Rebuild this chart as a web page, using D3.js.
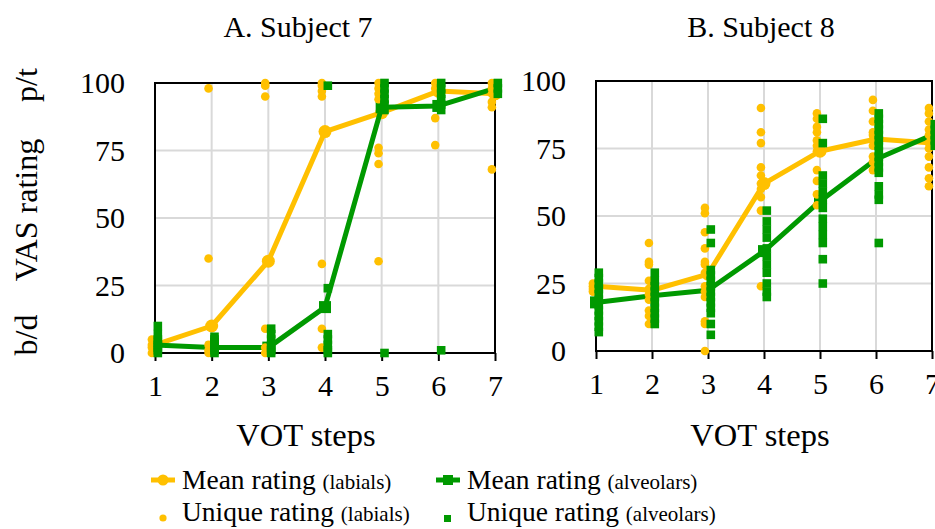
<!DOCTYPE html>
<html>
<head>
<meta charset="utf-8">
<script src="https://cdn.jsdelivr.net/npm/d3@7/dist/d3.min.js"></script>
<style>
  html, body { margin: 0; padding: 0; background: #fff; }
  svg { display: block; }
  text { font-family: "Liberation Serif", "Times New Roman", serif; fill: #000; }
</style>
</head>
<body>
<svg id="chart" width="935" height="529"></svg>
<script>
// VOT continuum steps and rating ticks
const steps = [1, 2, 3, 4, 5, 6, 7];
const yTicks = [0, 25, 50, 75, 100];

// Subject 7: mean ratings per step
const meanLabialA   = [3, 10, 34, 82, 89, 97, 96];
const meanAlveolarA = [3, 2, 2, 17, 91, 91.5, 98];
// Subject 7: individual ratings per step
const uniqueLabialA = [
  [0, 2, 3, 5],
  [98, 35, 3, 1, 0],
  [100, 99, 95, 9, 2, 0],
  [100, 99, 97, 95, 33, 9, 2],
  [100, 98, 96, 94, 76, 74, 70, 34],
  [100, 98, 87, 77],
  [100, 98, 96, 93, 91, 68]
];
const uniqueAlveolarA = [
  [10, 7, 5, 4, 3, 2, 1, 0],
  [6, 5, 4, 3, 2, 1, 0],
  [9, 7, 5, 3, 2, 1, 0],
  [99, 24, 7, 5, 3, 1, 0],
  [100, 98, 96, 94, 92, 90, 0],
  [100, 98, 96, 94, 92, 90, 1],
  [100, 98, 96]
];

// Subject 8: mean ratings per step
const meanLabialB   = [24, 22.5, 28.5, 62, 74, 78.5, 77];
const meanAlveolarB = [18, 20.5, 22.5, 37, 55.5, 71, 80];
// Subject 8: individual ratings per step
const uniqueLabialB = [
  [25, 24, 23, 22],
  [40, 33, 32, 26, 23, 21, 19, 15, 13, 10],
  [53, 51, 44, 38, 33, 32, 29, 24, 22, 20, 11, 10, 0],
  [90, 81, 77, 68, 65, 62, 60, 57, 52, 24],
  [88, 86, 83, 81, 78, 76, 74, 67, 63, 58, 54],
  [93, 89, 85, 81, 80, 78, 76, 72, 70, 67],
  [90, 88, 85, 82, 80, 77, 75, 72, 68, 64, 61]
];
const uniqueAlveolarB = [
  [29, 27, 25, 23, 21, 19, 17, 15, 13, 11, 9, 7],
  [29, 26, 24, 22, 20, 18, 16, 14, 12, 10],
  [45, 40, 30, 28, 26, 24, 22, 20, 18, 16, 14, 10, 6],
  [52, 48, 45, 42, 38, 35, 32, 29, 25, 22, 20],
  [86, 77, 65, 62, 59, 56, 53, 49, 46, 43, 40, 34, 25],
  [88, 86, 84, 82, 80, 78, 76, 74, 72, 70, 68, 66, 61, 58, 56, 40],
  [84, 82, 80, 78, 76]
];

const YELLOW = "#FFC000";
const GREEN = "#009900";
const GRID = "#d9d9d9";

const svg = d3.select("#chart");

function panel(opts) {
  const x = d3.scaleLinear().domain([1, 7]).range([opts.x0, opts.x1]);
  const y = d3.scaleLinear().domain([0, 100]).range([opts.y0, opts.y1]);
  const g = svg.append("g");

  // gridlines
  g.append("g").selectAll("line").data(yTicks.slice(1, -1)).join("line")
    .attr("x1", opts.x0).attr("x2", opts.x1)
    .attr("y1", d => y(d)).attr("y2", d => y(d))
    .attr("stroke", GRID).attr("stroke-width", 2);
  g.append("g").selectAll("line").data(steps.slice(1, -1)).join("line")
    .attr("x1", d => x(d)).attr("x2", d => x(d))
    .attr("y1", opts.y0).attr("y2", opts.y1)
    .attr("stroke", GRID).attr("stroke-width", 2);

  // x axis
  const xAxis = g.append("g").attr("transform", `translate(0,${opts.y0})`)
    .call(d3.axisBottom(x).tickValues(steps).tickFormat(d3.format("d"))
      .tickSize(8).tickSizeOuter(0).tickPadding(14));
  xAxis.select(".domain").remove();
  xAxis.selectAll(".tick line").attr("stroke", "#000").attr("stroke-width", 2);
  xAxis.selectAll(".tick text").attr("font-size", 30).attr("font-family", "Liberation Serif");

  // y axis labels
  const yAxis = g.append("g").attr("transform", `translate(${opts.x0},0)`)
    .call(d3.axisLeft(y).tickValues(yTicks).tickSize(0).tickPadding(30));
  yAxis.select(".domain").remove();
  yAxis.selectAll(".tick text").attr("font-size", 30).attr("font-family", "Liberation Serif");

  // plot frame
  g.append("rect")
    .attr("x", opts.x0).attr("y", opts.y1)
    .attr("width", opts.x1 - opts.x0).attr("height", opts.y0 - opts.y1)
    .attr("fill", "none").attr("stroke", "#000").attr("stroke-width", 2);

  const line = d3.line().x((d, i) => x(steps[i])).y(d => y(d));

  // mean series: labials
  g.append("path").datum(opts.meanLab).attr("d", line)
    .attr("fill", "none").attr("stroke", YELLOW).attr("stroke-width", 5)
    .attr("stroke-linejoin", "round");
  g.append("g").selectAll("circle").data(opts.meanLab).join("circle")
    .attr("cx", (d, i) => x(steps[i])).attr("cy", d => y(d))
    .attr("r", 6.5).attr("fill", YELLOW);

  // mean series: alveolars
  g.append("path").datum(opts.meanAlv).attr("d", line)
    .attr("fill", "none").attr("stroke", GREEN).attr("stroke-width", 5)
    .attr("stroke-linejoin", "round");
  g.append("g").selectAll("rect").data(opts.meanAlv).join("rect")
    .attr("x", (d, i) => x(steps[i]) - 6).attr("y", d => y(d) - 6)
    .attr("width", 12).attr("height", 12).attr("fill", GREEN);

  // individual ratings, nudged either side of each step
  const flat = arr => arr.flatMap((vals, i) => vals.map(v => ({ s: steps[i], v })));
  g.append("g").selectAll("circle").data(flat(opts.uniLab)).join("circle")
    .attr("cx", d => x(d.s - 0.055)).attr("cy", d => y(d.v))
    .attr("r", 4.3).attr("fill", YELLOW);
  g.append("g").selectAll("rect").data(flat(opts.uniAlv)).join("rect")
    .attr("x", d => x(d.s + 0.05) - 4.3).attr("y", d => y(d.v) - 4.3)
    .attr("width", 8.6).attr("height", 8.6).attr("fill", GREEN);

  // titles
  svg.append("text").attr("x", opts.titleX).attr("y", 37)
    .attr("text-anchor", "middle").attr("font-size", 30).text(opts.title);
  svg.append("text").attr("x", opts.axisTitleX).attr("y", 446)
    .attr("text-anchor", "middle").attr("font-size", 32.5).text("VOT steps");
}

panel({ x0: 155, x1: 495, y0: 353, y1: 83, title: "A. Subject 7", titleX: 298, axisTitleX: 306,
  meanLab: meanLabialA, meanAlv: meanAlveolarA, uniLab: uniqueLabialA, uniAlv: uniqueAlveolarA });
panel({ x0: 596, x1: 932, y0: 351, y1: 81, title: "B. Subject 8", titleX: 761, axisTitleX: 760,
  meanLab: meanLabialB, meanAlv: meanAlveolarB, uniLab: uniqueLabialB, uniAlv: uniqueAlveolarB });

// y axis title pieces
const yt = (txt, cy) => svg.append("text")
  .attr("transform", `translate(37,${cy}) rotate(-90)`)
  .attr("text-anchor", "middle").attr("font-size", 32).text(txt);
yt("b/d", 335);
yt("VAS rating", 210);
yt("p/t", 85);

// legend
const lg = svg.append("g");
function legendText(xp, yp, main, sub) {
  const t = lg.append("text").attr("x", xp).attr("y", yp).attr("font-size", 27.5);
  t.append("tspan").text(main + " ");
  t.append("tspan").attr("font-size", 21).text(sub);
}
lg.append("line").attr("x1", 151).attr("x2", 175).attr("y1", 480).attr("y2", 480)
  .attr("stroke", YELLOW).attr("stroke-width", 5);
lg.append("circle").attr("cx", 163).attr("cy", 480).attr("r", 5.5).attr("fill", YELLOW);
legendText(182, 489, "Mean rating", "(labials)");
lg.append("line").attr("x1", 436).attr("x2", 460).attr("y1", 480).attr("y2", 480)
  .attr("stroke", GREEN).attr("stroke-width", 5);
lg.append("rect").attr("x", 443).attr("y", 475).attr("width", 10).attr("height", 10).attr("fill", GREEN);
legendText(467, 489, "Mean rating", "(alveolars)");
lg.append("circle").attr("cx", 163).attr("cy", 518).attr("r", 3.6).attr("fill", YELLOW);
legendText(182, 521, "Unique rating", "(labials)");
lg.append("rect").attr("x", 444).attr("y", 515).attr("width", 7).attr("height", 7).attr("fill", GREEN);
legendText(467, 521, "Unique rating", "(alveolars)");
</script>
</body>
</html>
